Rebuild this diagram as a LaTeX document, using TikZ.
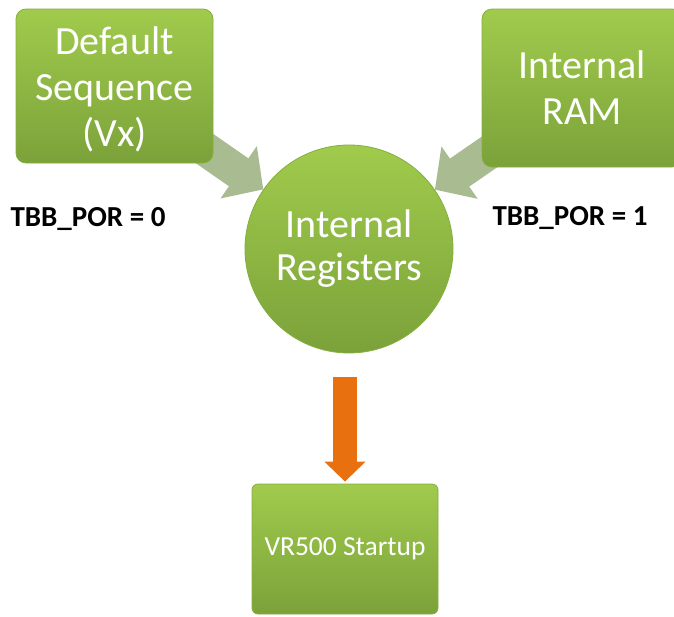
\documentclass[tikz,border=0pt]{standalone}
\usepackage{fontspec}
\setmainfont{Carlito}
\usetikzlibrary{arrows.meta,backgrounds}
\definecolor{gtop}{HTML}{A0CB4C}
\definecolor{gbot}{HTML}{7BA23A}
\definecolor{gedge}{HTML}{86AE3E}
\definecolor{garrow}{HTML}{A9BC91}
\definecolor{oarrow}{HTML}{E8700F}
\tikzset{
  greenbox/.style={rectangle, rounded corners=10pt, top color=gtop, bottom color=gbot,
    draw=gedge, line width=0.8pt, text=white, align=center, inner sep=0pt},
  greencirc/.style={circle, top color=gtop, bottom color=gbot, draw=gedge, line width=0.8pt,
    text=white, align=center, inner sep=0pt, minimum size=208pt},
  bigtext/.style={font=\fontsize{40}{46}\selectfont},
  label/.style={font=\fontsize{29}{34}\selectfont\bfseries, text=black},
  grayarrow/.style={draw=garrow, line width=34pt, -{Triangle[width=62pt,length=30pt]}, color=garrow},
  orangearrow/.style={draw=oarrow, line width=24pt, -{Triangle[width=40pt,length=20pt]}, color=oarrow}
}
\begin{document}
\begin{tikzpicture}[x=1pt,y=-1pt]
\useasboundingbox (0,0) rectangle (674,616);
\node[greenbox, bigtext, minimum width=197pt, minimum height=154pt] (def) at (114.5,86)
  {\raisebox{-12pt}[0pt][0pt]{\begin{tabular}{@{}c@{}}Default\\Sequence\\(Vx)\end{tabular}}};
\node[greenbox, bigtext, minimum width=200pt, minimum height=158pt] (ram) at (582,88) {Internal\\RAM};
\node[greencirc, font=\fontsize{40}{43}\selectfont] (circ) at (349,249) {Internal\\Registers};
\node[greenbox, rounded corners=6pt, minimum width=186pt, minimum height=130pt,
  font=\fontsize{27.5}{32}\selectfont] (vr) at (345,549) {VR500 Startup};
\node[label] (l0) at (88,219) {TBB\_POR = 0};
\node[label] (l1) at (570,218) {TBB\_POR = 1};
\begin{scope}[on background layer]
\draw[grayarrow] (def.center) -- (circ);
\draw[grayarrow] (ram.center) -- (circ);
\end{scope}
\draw[orangearrow, shorten >=2pt] ([yshift=-24pt]vr.north |- circ.south) -- (vr.north);
\end{tikzpicture}
\end{document}
